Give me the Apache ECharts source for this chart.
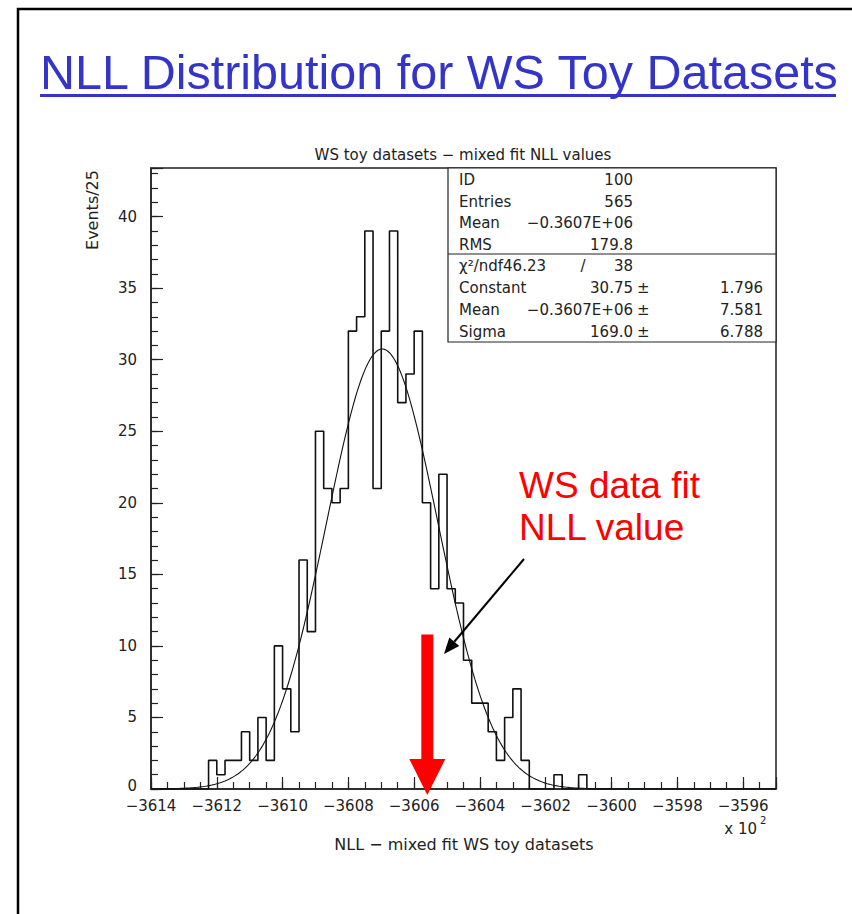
<!DOCTYPE html>
<html>
<head>
<meta charset="utf-8">
<script src="https://cdn.jsdelivr.net/npm/echarts@6/dist/echarts.min.js"></script>
<style>
  html, body { margin: 0; padding: 0; background: #fff; }
  #main { width: 852px; height: 914px; }
</style>
</head>
<body>
<div id="main"></div>
<script>
// histogram: bins of 25, x in units of 10^2
const binStart = -3614;
const binWidth = 0.25;
const binCounts = [
  0, 0, 0, 0, 0, 0, 0, 2, 1, 2,
  2, 4, 2, 5, 2, 10, 7, 4, 16, 11,
  25, 21, 20, 21, 32, 33, 39, 21, 32, 39,
  27, 29, 32, 20, 14, 22, 14, 13, 9, 6,
  6, 4, 2, 5, 7, 2, 0, 0, 0, 1,
  0, 0, 1, 0, 0, 0, 0, 0, 0, 0,
  0, 0, 0, 0, 0, 0, 0, 0, 0, 0,
  0, 0, 0, 0, 0, 0
];

// gaussian fit from the stats box
const fitConstant = 30.75;
const fitMean = -3606.97;
const fitSigma = 1.69;
const fitRange = [-3613.75, -3600];

// axis ticks
const xTicks = [-3614, -3612, -3610, -3608, -3606, -3604, -3602, -3600, -3598, -3596];
const yTicks = [0, 5, 10, 15, 20, 25, 30, 35, 40];
const xMin = -3614, xMax = -3595;
const yMax = 43.4;

// WS data fit value (red arrow)
const wsFitNLL = -3605.6;
const wsArrowTop = 10.8;

const statsTop = [
  ['ID', '100'],
  ['Entries', '565'],
  ['Mean', '\u22120.3607E+06'],
  ['RMS', '179.8']
];
const statsFit = [
  ['Constant', '30.75', '1.796'],
  ['Mean', '\u22120.3607E+06', '7.581'],
  ['Sigma', '169.0', '6.788']
];

const histPoints = [];
binCounts.forEach(function (c, i) {
  const lo = binStart + i * binWidth;
  histPoints.push([lo, c], [lo + binWidth, c]);
});

const fitPoints = [];
for (let x = fitRange[0]; x <= fitRange[1] + 1e-9; x += 0.05) {
  const z = (x - fitMean) / fitSigma;
  fitPoints.push([x, fitConstant * Math.exp(-0.5 * z * z)]);
}

const minus = function (v) { return v < 0 ? '\u2212' + Math.abs(v) : String(v); };
const ink = '#222';
const plotFont = 'DejaVu Sans';
const css = function (size) { return size + 'px "' + plotFont + '"'; };

const chart = echarts.init(document.getElementById('main'), null, { renderer: 'svg' });

// stats box graphics
const statsGraphics = [
  { type: 'rect', shape: { x: 448, y: 168, width: 328, height: 174 }, style: { fill: '#fff', stroke: ink, lineWidth: 1.2 }, z: 10 },
  { type: 'line', shape: { x1: 448, y1: 254, x2: 776, y2: 254 }, style: { stroke: ink, lineWidth: 1.2 }, z: 10 }
];
function statText(x, y, t, align) {
  return { type: 'text', z: 11, style: { x: x, y: y, text: t, font: css(15), fill: ink, textAlign: align, textVerticalAlign: 'middle' } };
}
statsTop.forEach(function (r, i) {
  const y = 180 + i * 21.7;
  statsGraphics.push(statText(459, y, r[0], 'left'), statText(633, y, r[1], 'right'));
});
statsGraphics.push(statText(459, 266, '\u03c7\u00b2/ndf46.23', 'left'), statText(583, 266, '/', 'center'), statText(633, 266, '38', 'right'));
statsFit.forEach(function (r, i) {
  const y = 288 + i * 21.9;
  statsGraphics.push(statText(459, y, r[0], 'left'), statText(633, y, r[1], 'right'),
    statText(637, y, '\u00b1', 'left'), statText(763, y, r[2], 'right'));
});

// black pointer arrow
const tail = [524, 559], tip = [444, 654];
const dx = tip[0] - tail[0], dy = tip[1] - tail[1];
const len = Math.sqrt(dx * dx + dy * dy);
const ux = dx / len, uy = dy / len;
const bx = tip[0] - 16 * ux, by = tip[1] - 16 * uy;

const option = {
  animation: false,
  backgroundColor: '#fff',
  grid: { left: 151, top: 168, width: 625, height: 621, show: true, borderColor: ink, borderWidth: 1.5, outerBoundsMode: 'none' },
  xAxis: [{
    type: 'value', min: xMin, max: xMax, interval: 2,
    axisLine: { show: true, lineStyle: { color: ink, width: 1.5 } },
    axisTick: { show: true, inside: true, length: 12, lineStyle: { color: ink, width: 1.2 } },
    axisLabel: {
      margin: 9, lineHeight: 15, color: ink, fontSize: 15, fontFamily: plotFont,
      formatter: function (v) { return xTicks.indexOf(v) >= 0 ? minus(v) : ''; }
    },
    splitLine: { show: false }
  }, {
    type: 'value', min: xMin, max: xMax, interval: 0.5, position: 'bottom',
    axisLine: { show: false },
    axisTick: { show: true, inside: true, length: 7, lineStyle: { color: ink, width: 1.2 } },
    axisLabel: { show: false },
    splitLine: { show: false }
  }],
  yAxis: [{
    type: 'value', min: 0, max: yMax, interval: 5,
    axisLine: { show: true, lineStyle: { color: ink, width: 1.5 } },
    axisTick: { show: true, inside: true, length: 12, lineStyle: { color: ink, width: 1.2 } },
    axisLabel: {
      margin: 14, lineHeight: 14, color: ink, fontSize: 15, fontFamily: plotFont,
      formatter: function (v) {
        if (v === 0) return '{zero|0}';
        return yTicks.indexOf(v) >= 0 ? String(v) : '';
      },
      rich: { zero: { fontSize: 15, fontFamily: plotFont, color: ink, lineHeight: 14, padding: [0, 0, 6, 0] } }
    },
    splitLine: { show: false }
  }, {
    type: 'value', min: 0, max: yMax, interval: 1, position: 'left',
    axisLine: { show: false },
    axisTick: { show: true, inside: true, length: 7, lineStyle: { color: ink, width: 1.2 } },
    axisLabel: { show: false },
    splitLine: { show: false }
  }],
  series: [{
    name: 'toys',
    type: 'line',
    data: histPoints,
    showSymbol: false,
    lineStyle: { color: '#111', width: 1.6 },
    z: 3
  }, {
    name: 'fit',
    type: 'line',
    data: fitPoints,
    showSymbol: false,
    lineStyle: { color: '#111', width: 1.1 },
    z: 4
  }, {
    name: 'WS data',
    type: 'custom',
    data: [[wsFitNLL, wsArrowTop]],
    clip: false,
    z: 12,
    renderItem: function (params, api) {
      const top = api.coord([api.value(0), api.value(1)]);
      const base = api.coord([api.value(0), 0]);
      const x = top[0];
      return {
        type: 'polygon',
        shape: { points: [[x - 6, top[1]], [x + 6, top[1]], [x + 6, base[1] - 30], [x + 18, base[1] - 30],
          [x, base[1] + 6], [x - 18, base[1] - 30], [x - 6, base[1] - 30]] },
        style: { fill: '#ff0000' }
      };
    }
  }],
  graphic: [
    { type: 'rect', shape: { x: 18, y: 9, width: 900, height: 950 }, style: { fill: 'none', stroke: '#000', lineWidth: 2.5 } },
    { type: 'text', style: { x: 40, y: 72, text: 'NLL Distribution for WS Toy Datasets', font: '48.5px "Liberation Sans"', fill: '#3434c8', textVerticalAlign: 'middle' } },
    { type: 'rect', shape: { x: 40, y: 94, width: 796, height: 3 }, style: { fill: '#3434c8' } },
    { type: 'text', style: { x: 463, y: 155, text: 'WS toy datasets \u2212 mixed fit NLL values', font: css(15), fill: ink, textAlign: 'center', textVerticalAlign: 'middle' } },
    { type: 'text', x: 92, y: 210, rotation: Math.PI / 2, style: { text: 'Events/25', font: css(16), fill: ink, textAlign: 'center', textVerticalAlign: 'middle' } },
    { type: 'text', style: { x: 757, y: 829, text: 'x 10', font: css(15), fill: ink, textAlign: 'right', textVerticalAlign: 'middle' } },
    { type: 'text', style: { x: 760, y: 820, text: '2', font: css(10), fill: ink, textAlign: 'left', textVerticalAlign: 'middle' } },
    { type: 'text', style: { x: 464, y: 844, text: 'NLL \u2212 mixed fit WS toy datasets', font: css(16), fill: ink, textAlign: 'center', textVerticalAlign: 'middle' } },
    { type: 'text', style: { x: 519, y: 485, text: 'WS data fit', font: '37px "Liberation Sans"', fill: '#ff0000', textVerticalAlign: 'middle' } },
    { type: 'text', style: { x: 519, y: 527, text: 'NLL value', font: '37px "Liberation Sans"', fill: '#ff0000', textVerticalAlign: 'middle' } },
    { type: 'line', shape: { x1: tail[0], y1: tail[1], x2: bx, y2: by }, style: { stroke: '#000', lineWidth: 2 }, z: 12 },
    { type: 'polygon', shape: { points: [tip, [bx + 6.5 * uy, by - 6.5 * ux], [bx - 6.5 * uy, by + 6.5 * ux]] }, style: { fill: '#000' }, z: 12 }
  ].concat(statsGraphics)
};

chart.setOption(option);
</script>
</body>
</html>
